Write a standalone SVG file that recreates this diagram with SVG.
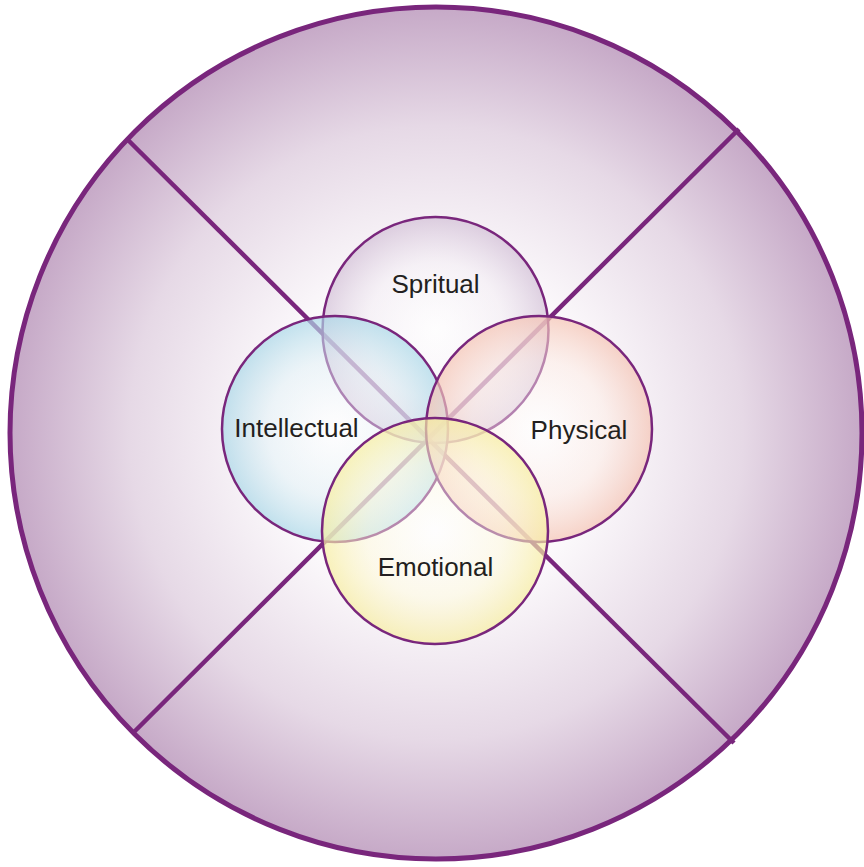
<svg xmlns="http://www.w3.org/2000/svg" width="864" height="867" viewBox="0 0 864 867">
<defs>
<radialGradient id="gBig" cx="0.5" cy="0.5" r="0.5">
<stop offset="0" stop-color="#ffffff"/>
<stop offset="0.38" stop-color="#fcfafc"/>
<stop offset="0.72" stop-color="#e6d9e6"/>
<stop offset="1" stop-color="#c6a9c7"/>
</radialGradient>
<radialGradient id="gSp" cx="0.5" cy="0.5" r="0.5">
<stop offset="0" stop-color="#ffffff" stop-opacity="0.35"/>
<stop offset="0.6" stop-color="#eee6ef" stop-opacity="0.45"/>
<stop offset="1" stop-color="#cbb6d0" stop-opacity="0.6"/>
</radialGradient>
<radialGradient id="gIn" cx="0.5" cy="0.5" r="0.5">
<stop offset="0" stop-color="#ffffff" stop-opacity="0.4"/>
<stop offset="0.6" stop-color="#dcedf3" stop-opacity="0.5"/>
<stop offset="1" stop-color="#a9d8e8" stop-opacity="0.7"/>
</radialGradient>
<radialGradient id="gPh" cx="0.5" cy="0.5" r="0.5">
<stop offset="0" stop-color="#ffffff" stop-opacity="0.4"/>
<stop offset="0.6" stop-color="#fae6df" stop-opacity="0.5"/>
<stop offset="1" stop-color="#f5c3b2" stop-opacity="0.7"/>
</radialGradient>
<radialGradient id="gEm" cx="0.5" cy="0.5" r="0.5">
<stop offset="0" stop-color="#ffffff" stop-opacity="0.4"/>
<stop offset="0.6" stop-color="#fcf7d8" stop-opacity="0.5"/>
<stop offset="1" stop-color="#f7ee9f" stop-opacity="0.7"/>
</radialGradient>
<style>
.small { stroke: #79267c; stroke-width: 2.5; }
.lbl { font-family: "Liberation Sans", Arial, sans-serif; font-size: 26px; fill: #231f20; text-anchor: middle; }
</style>
</defs>
<g id="outer">
<circle cx="436" cy="433" r="426" fill="url(#gBig)" stroke="#79267c" stroke-width="5"/>
</g>
<g id="connectors" stroke="#79267c" stroke-width="4.5" stroke-linecap="butt">
<line x1="128" y1="140" x2="734" y2="743"/>
<line x1="739" y1="129" x2="133" y2="733"/>
</g>
<g id="spiritual">
<circle class="small" cx="435.5" cy="330" r="113" fill="url(#gSp)"/>
</g>
<g id="intellectual">
<circle class="small" cx="335" cy="429" r="113" fill="url(#gIn)"/>
</g>
<g id="physical">
<circle class="small" cx="539" cy="429" r="113" fill="url(#gPh)"/>
</g>
<g id="emotional">
<circle class="small" cx="435" cy="531" r="113" fill="url(#gEm)"/>
</g>
<g id="labels">
<text class="lbl" x="435.5" y="293">Spritual</text>
<text class="lbl" x="296.5" y="437">Intellectual</text>
<text class="lbl" x="579" y="439">Physical</text>
<text class="lbl" x="435.5" y="576">Emotional</text>
</g>
</svg>
